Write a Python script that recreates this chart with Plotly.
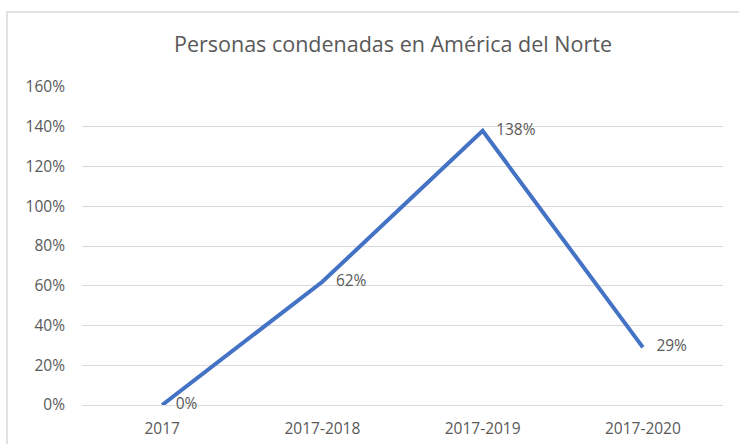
import plotly.graph_objects as go

# Periodos y variación acumulada de personas condenadas
periodos = ["2017", "2017-2018", "2017-2019", "2017-2020"]
variacion = [0.00, 0.62, 1.38, 0.29]
etiquetas = ["0%", "62%", "138%", "29%"]

W, H = 739, 444
L, R, T, B = 82, 16, 87, 39
pw, ph = W - L - R, H - T - B

GRIS = "#595959"
FUENTE = "Open Sans"


def px_x(p):
    return (p - L) / pw


def px_y(p):
    return (H - B - p) / ph


fig = go.Figure()
# Línea con etiquetas de datos a la derecha (marcadores invisibles para separar el texto)
fig.add_trace(go.Scatter(
    x=periodos,
    y=variacion,
    mode="lines+markers+text",
    line=dict(color="#4472C4", width=4),
    marker=dict(size=20, opacity=0, color="#4472C4"),
    text=etiquetas,
    textposition="middle right",
    textfont=dict(family=FUENTE, size=15.5, color=GRIS),
    cliponaxis=False,
    hoverinfo="skip",
))

# Marco exterior del gráfico
fig.add_shape(type="rect", xref="paper", yref="paper",
              x0=px_x(7), x1=px_x(760), y0=px_y(470), y1=px_y(12),
              line=dict(color="#D9D9D9", width=1.5), fillcolor="rgba(0,0,0,0)",
              layer="below")

fig.update_layout(
    width=W, height=H,
    margin=dict(l=L, r=R, t=T, b=B),
    paper_bgcolor="white",
    plot_bgcolor="white",
    showlegend=False,
    title=dict(text="Personas condenadas en América del Norte",
               x=393 / W, xanchor="center", y=1 - 44 / H, yanchor="middle",
               font=dict(family=FUENTE, size=21.5, color=GRIS)),
    xaxis=dict(
        type="category", range=[-0.5, 3.5], automargin=False,
        showgrid=False, showline=False, zeroline=False,
        ticks="", tickfont=dict(family=FUENTE, size=15.5, color=GRIS),
        ticklabelstandoff=12,
    ),
    yaxis=dict(
        range=[0, 1.6], dtick=0.2, tickformat=".0%", automargin=False,
        showgrid=True, gridcolor="#D9D9D9", gridwidth=1,
        zeroline=True, zerolinecolor="#D9D9D9", zerolinewidth=1,
        showline=False, ticks="",
        tickfont=dict(family=FUENTE, size=15.5, color=GRIS),
        ticklabelstandoff=16,
    ),
)

fig.write_html("out.html")
